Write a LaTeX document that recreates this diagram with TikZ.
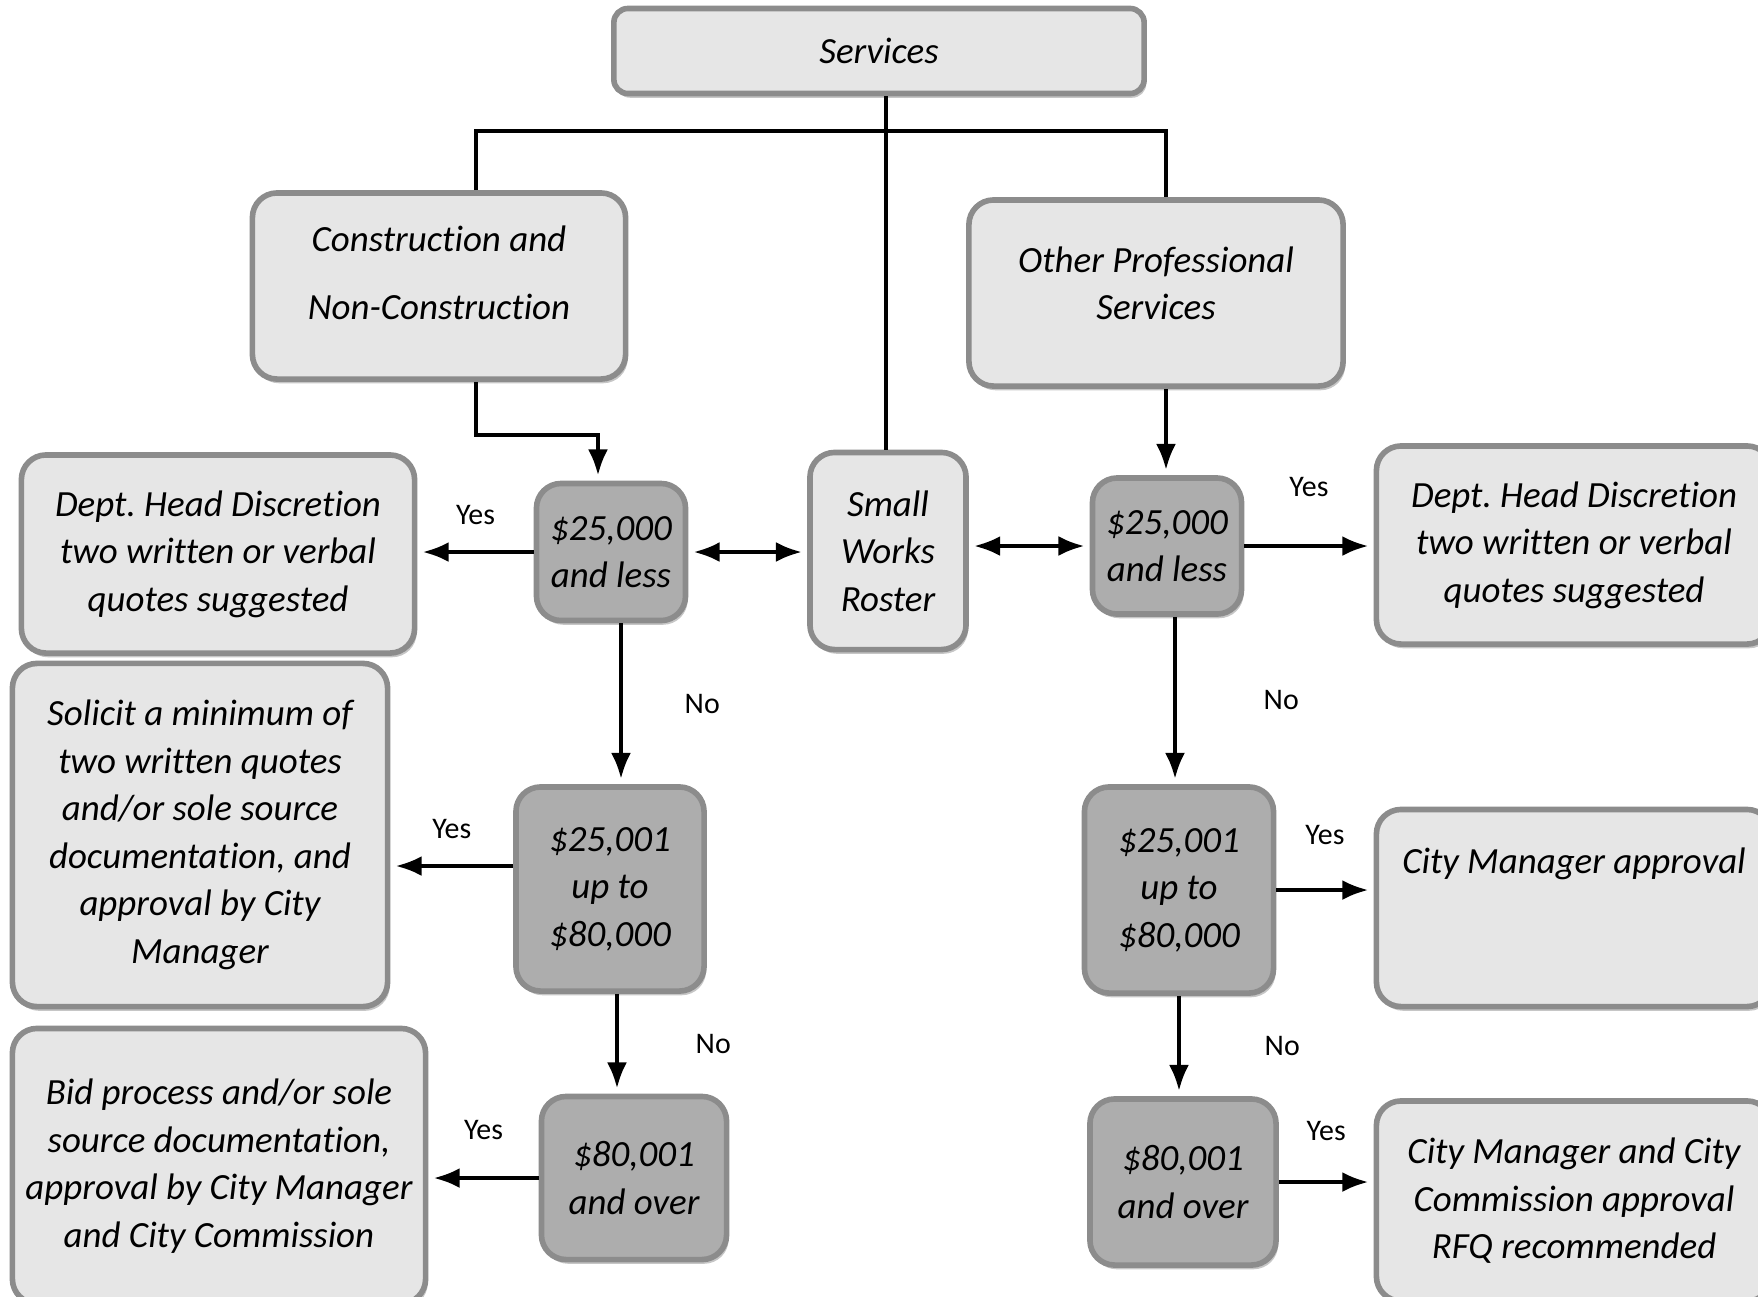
\documentclass[tikz,border=0pt]{standalone}
\usepackage{fontspec}
\setmainfont{Carlito}[Ligatures={NoCommon,NoRare}, Contextuals=NoAlternate]
\usetikzlibrary{arrows.meta,shadows}
\definecolor{boxlight}{HTML}{E6E6E6}
\definecolor{boxdark}{HTML}{ADADAD}
\definecolor{boxedge}{HTML}{8C8C8C}
\frenchspacing

\begin{document}
\begin{tikzpicture}[x=0.01cm, y=-0.01cm,
        every path/.style={line width=1.1pt},
        box/.style={draw=boxedge, line width=1.6pt, fill=boxlight, rounded corners=7pt,
            align=center, inner sep=2pt, font=\fontsize{10.5}{13.5}\selectfont\itshape,
            drop shadow={shadow xshift=0.6pt, shadow yshift=-1.2pt, opacity=0.45}},
        dark/.style={box, fill=boxdark},
        arr/.style={-{Latex[length=2.6mm, width=2mm]}, shorten >=1.5pt},
        dbl/.style={{Latex[length=2.6mm, width=2mm]}-{Latex[length=2.6mm, width=2mm]}, shorten >=1.5pt, shorten <=1.5pt},
        lbl/.style={font=\fontsize{8.5}{10}\selectfont}]
    \useasboundingbox (0,0) rectangle (1758,1296);

    \node[box, minimum width=5.30cm, minimum height=0.85cm, rounded corners=4pt] (serv) at (879,51) {Services};
    \node[box, minimum width=3.73cm, minimum height=1.86cm] (cons) at (439,286) {Construction and\\[6pt]Non-Construction\\[-6pt]\mbox{}};
    \node[box, minimum width=3.74cm, minimum height=1.86cm] (other) at (1156,293) {Other Professional\\Services\\[-8pt]\mbox{}};

    \node[box, minimum width=3.93cm, minimum height=1.98cm] (ldept) at (218,554) {Dept. Head Discretion\\two written or verbal\\quotes suggested};
    \node[dark, minimum width=1.49cm, minimum height=1.37cm] (l25) at (611,552) {\$25,000\\and less};
    \node[box, minimum width=1.56cm, minimum height=1.97cm] (small) at (888,551) {Small\\Works\\Roster};
    \node[dark, minimum width=1.49cm, minimum height=1.36cm] (r25) at (1167,546) {\$25,000\\and less};
    \node[box, minimum width=3.95cm, minimum height=1.98cm] (rdept) at (1574,545) {Dept. Head Discretion\\two written or verbal\\quotes suggested};

    \node[box, minimum width=3.75cm, minimum height=3.43cm] (solicit) at (200,835) {Solicit a minimum of\\two written quotes\\and/or sole source\\documentation, and\\approval by City\\Manager};
    \node[dark, minimum width=1.88cm, minimum height=2.04cm] (l25001) at (610,889) {\$25,001\\up to\\\$80,000};
    \node[dark, minimum width=1.89cm, minimum height=2.06cm] (r25001) at (1179,890) {\$25,001\\up to\\\$80,000};
    \node[box, minimum width=3.95cm, minimum height=1.97cm] (rcm) at (1574,908) {City Manager approval\\\mbox{}\\\mbox{}};

    \node[box, minimum width=4.13cm, minimum height=2.75cm] (bid) at (219,1166) {Bid process and/or sole\\source documentation,\\approval by City Manager\\and City Commission};
    \node[dark, minimum width=1.85cm, minimum height=1.63cm] (l80) at (634,1178) {\$80,001\\and over};
    \node[dark, minimum width=1.86cm, minimum height=1.66cm] (r80) at (1183,1182) {\$80,001\\and over};
    \node[box, minimum width=3.95cm, minimum height=2.00cm] (rcmc) at (1574,1201) {City Manager and City\\Commission approval\\RFQ recommended};

    \coordinate (hub) at (886,131);
    \coordinate (rdrop) at (1166,131);
    \coordinate (cturn) at (476,435);
    \coordinate (lturn) at (598,435);

    \draw (serv.south -| hub) -- (hub);
    \draw (cons.north -| cturn) |- (rdrop) -- (other.north -| rdrop);
    \draw (hub) -- (hub |- small.north);
    \draw[arr] (cons.south -| cturn) -- (cturn) -- (lturn) -- (l25.north -| lturn);
    \draw[arr] (other.south -| rdrop) -- (r25.north -| rdrop);

    \draw[arr] (l25.west) -- (l25.west -| ldept.east) node[lbl, midway, above=4pt] {Yes};
    \draw[dbl] (l25.east) -- (l25.east -| small.west);
    \draw[dbl] (small.east |- r25.west) -- (r25.west);
    \draw[arr] (r25.east) -- (r25.east -| rdept.west) node[lbl, midway, above=10pt] {Yes};
    \draw[arr] ([xshift=0.10cm]l25.south) -- ([xshift=0.10cm]l25.south |- l25001.north) node[lbl, midway, right=0.5cm] {No};
    \draw[arr] ([xshift=0.08cm]r25.south) -- ([xshift=0.08cm]r25.south |- r25001.north) node[lbl, midway, right=0.75cm] {No};

    \draw[arr] ([yshift=0.23cm]l25001.west) -- ([yshift=0.23cm]l25001.west -| solicit.east) node[lbl, midway, above=4pt] {Yes};
    \draw[arr] (r25001.east) -- (r25001.east -| rcm.west) node[lbl, midway, above=9pt] {Yes};
    \draw[arr] ([xshift=0.07cm]l25001.south) -- ([xshift=0.07cm]l25001.south |- l80.north) node[lbl, midway, right=0.65cm] {No};
    \draw[arr] (r25001.south) -- (r25001.south |- r80.north) node[lbl, midway, right=0.72cm] {No};

    \draw[arr] (l80.west) -- (l80.west -| bid.east) node[lbl, midway, above=7pt] {Yes};
    \draw[arr] (r80.east) -- (r80.east -| rcmc.west) node[lbl, midway, above=8pt] {Yes};
\end{tikzpicture}
\end{document}
